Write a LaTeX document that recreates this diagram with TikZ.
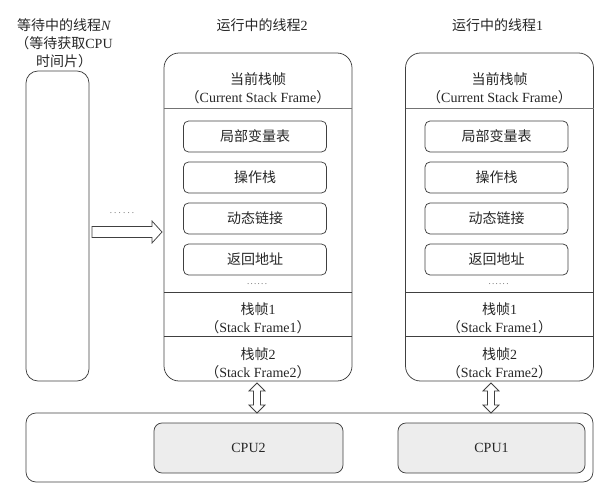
\documentclass[tikz,border=0pt]{standalone}
\usepackage{fontspec}
\setmainfont{Liberation Serif}
\newfontfamily\cjk{Noto Sans CJK SC}
\usetikzlibrary{calc}
\newcommand\dblarrow[1]{\draw[hollow] (#1-3.5,391) -- (#1-3.5,405) -- (#1-8,405) -- (#1,413) -- (#1+8,405) -- (#1+3.5,405) -- (#1+3.5,391) -- (#1+8,391) -- (#1,383) -- (#1-8,391) -- cycle;}
\newcommand\spdots[1]{.\kern#1.\kern#1.\kern#1.\kern#1.\kern#1.}
\begin{document}
\begin{tikzpicture}[x=1pt,y=-1pt,
  font=\fontsize{14}{18}\selectfont,
  every node/.style={text=black!85},
  thread/.style={draw=black!75, line width=0.75pt, rounded corners=15pt, minimum width=188pt, minimum height=328pt, inner sep=0pt},
  item/.style={draw=black!75, line width=0.75pt, rounded corners=5pt, minimum width=143pt, minimum height=31pt, inner sep=0pt},
  cpu/.style={draw=black!75, line width=0.75pt, fill=black!7, rounded corners=8pt, minimum height=50pt, inner sep=0pt},
  lbl/.style={align=center, inner sep=0pt},
  sep/.style={draw=black!55, line width=0.75pt},
  hollow/.style={draw=black!75, line width=0.75pt, fill=white},
  dots/.style={font=\fontsize{9}{9}\selectfont, text=black!60, inner sep=0pt}]
\useasboundingbox (0,0) rectangle (616,492);

% waiting thread
\node[lbl] (wlbl) at (64,43) {{\cjk 等待中的线程}\textit{N}\\{\cjk （等待获取}CPU\\{\cjk 时间片）}};
\node[draw=black!75, line width=0.75pt, rounded corners=12pt, minimum width=63pt, minimum height=310pt, inner sep=0pt] (wait) at (57.5,226) {};

% running threads
\node[lbl] (tt2) at (262,25) {{\cjk 运行中的线程}2};
\node[lbl] (tt1) at (497.5,25) {{\cjk 运行中的线程}1};

\foreach \cx/\k in {258/2,499.5/1}{
  \node[thread] (t\k) at (\cx,217) {};
  \node[lbl] (cur\k) at (\cx,88) {{\cjk 当前栈帧}\\{\cjk （}Current Stack Frame{\cjk ）}};
  \draw[sep] (\cx-94,108) -- (\cx+94,108);
  \node[item] (lv\k) at (\cx-3,136.5) {\cjk 局部变量表};
  \node[item] (os\k) at (\cx-3,177.5) {\cjk 操作栈};
  \node[item] (dl\k) at (\cx-3,218.5) {\cjk 动态链接};
  \node[item] (ra\k) at (\cx-3,259.5) {\cjk 返回地址};
  \node[dots] (dd\k) at (\cx-1,284) {\spdots{1.3pt}};
  \draw[sep, draw=black!75] (\cx-94,292) -- (\cx+94,292);
  \node[lbl] (sf1\k) at (\cx,318.5) {{\cjk 栈帧}1\\{\cjk （}Stack Frame1{\cjk ）}};
  \draw[sep, draw=black!75] (\cx-94,336) -- (\cx+94,336);
  \node[lbl] (sf2\k) at (\cx,363.5) {{\cjk 栈帧}2\\{\cjk （}Stack Frame2{\cjk ）}};
}

% hollow arrow from waiting to running
\node[dots] (wdots) at (122,213) {\spdots{2.2pt}};
\draw[hollow] (92,226.5) -- (152,226.5) -- (152,221) -- (162,232) -- (152,243) -- (152,237.5) -- (92,237.5) -- cycle;

% CPUs
\node[draw=black!75, line width=0.75pt, rounded corners=10pt, minimum width=567pt, minimum height=69pt, inner sep=0pt] (bus) at (309.5,447.5) {};
\node[cpu, minimum width=189pt] (cpu2) at (248.5,448) {CPU2};
\node[cpu, minimum width=187pt] (cpu1) at (491.5,448) {CPU1};

\dblarrow{257}
\dblarrow{491}
\end{tikzpicture}
\end{document}
